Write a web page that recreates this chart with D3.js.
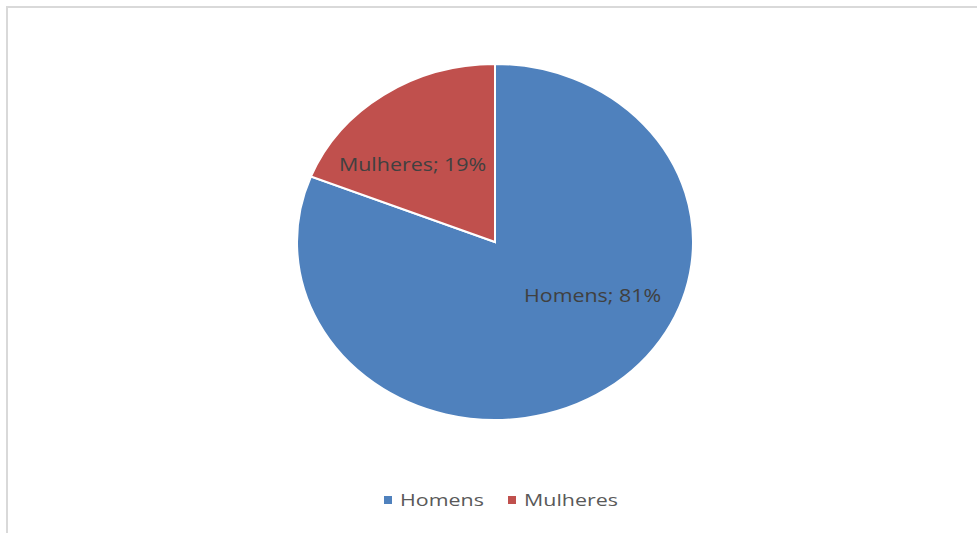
<!DOCTYPE html>
<html><head><meta charset="utf-8">
<script src="https://cdn.jsdelivr.net/npm/d3@7"></script>
<style>html,body{margin:0;padding:0;background:#fff;overflow:hidden}</style>
</head><body>
<svg id="c" width="977" height="533"></svg>
<script>
const categories = ["Homens", "Mulheres"];
const values = [81, 19];
const colors = ["#4F81BD", "#C0504D"];

const svg = d3.select("#c");
svg.append("path").attr("d","M7,533 V7 H977").attr("fill","none").attr("stroke","#D9D9D9").attr("stroke-width",2);

const cx = 495, cy = 242, ry = 178, sx = 198/178;
const data = categories.map((c,i)=>({cat:c, val:values[i], color:colors[i]}));
const pie = d3.pie().value(d=>d.val).sort(null);
const arcs = pie(data);
const arc = d3.arc().innerRadius(0).outerRadius(ry);
const g = svg.append("g").attr("transform",`translate(${cx},${cy}) scale(${sx},1)`);
g.selectAll("path").data(arcs).join("path")
  .attr("d",arc).attr("fill",d=>d.data.color)
  .attr("stroke","#fff").attr("stroke-width",2).attr("vector-effect","non-scaling-stroke");

const font = "Open Sans, Liberation Sans, sans-serif";
const lg = svg.append("g").attr("transform",`translate(${cx},${cy})`);
const labelPos = [[29,60],[-156,-71]];
lg.selectAll("text").data(arcs).join("text")
  .attr("transform",(d,i)=>`translate(${labelPos[i][0]},${labelPos[i][1]}) scale(1.19,1)`)
  .attr("text-anchor","start")
  .attr("font-family",font).attr("font-size",18)
  .attr("fill","#404040")
  .text(d=>`${d.data.cat}; ${d.data.val}%`);

const legend = svg.append("g");
const legX = [384, 508];
data.forEach((d,i)=>{
  legend.append("rect").attr("x",legX[i]).attr("y",496).attr("width",8).attr("height",8).attr("fill",d.color);
  legend.append("text").attr("transform",`translate(${legX[i]+16},506) scale(1.26,1)`)
    .attr("font-family",font).attr("font-size",17)
    .attr("fill","#595959").text(d.cat);
});
</script>
</body></html>
